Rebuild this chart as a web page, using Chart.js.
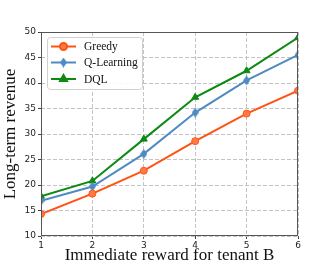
<!DOCTYPE html>
<html>
<head>
<meta charset="utf-8">
<script src="https://cdn.jsdelivr.net/npm/chart.js@4.4.0/dist/chart.umd.min.js"></script>
<style>
  html, body { margin: 0; padding: 0; background: #fff; }
  #wrap { width: 332px; height: 266px; }
</style>
</head>
<body>
<div id="wrap"><canvas id="chart" width="332" height="266"></canvas></div>
<script>
// data
const rewards = [1, 2, 3, 4, 5, 6];
const greedy = [14.3, 18.3, 22.8, 28.6, 34.0, 38.5];
const qLearning = [16.9, 19.7, 26.1, 34.2, 40.5, 45.5];
const dql = [17.8, 20.8, 29.0, 37.2, 42.4, 48.9];
const yTicks = [10, 15, 20, 25, 30, 35, 40, 45, 50];

const serif = "'Liberation Serif', 'Times New Roman', serif";
const sans = "'DejaVu Sans', sans-serif";

const toPoints = vals => vals.map((v, i) => ({ x: rewards[i], y: v }));

// thin diamond marker like matplotlib 'd'
function thinDiamond(color) {
  const c = document.createElement('canvas');
  c.width = 7;
  c.height = 10;
  const g = c.getContext('2d');
  g.fillStyle = color;
  g.beginPath();
  g.moveTo(3.5, 0);
  g.lineTo(7, 5);
  g.lineTo(3.5, 10);
  g.lineTo(0, 5);
  g.closePath();
  g.fill();
  return c;
}

const series = [
  { label: 'Greedy', data: greedy, color: '#ff5314', fill: '#ff7a45', marker: 'circle', radius: 3.5 },
  { label: 'Q-Learning', data: qLearning, color: '#4f8ac2', fill: '#4f8ac2', marker: thinDiamond('#4f8ac2'), radius: 4 },
  { label: 'DQL', data: dql, color: '#0c8a12', fill: '#0c8a12', marker: 'triangle', radius: 4 }
];

// frame + legend drawn inside the plot, matplotlib style
const framePlugin = {
  id: 'frame',
  afterDraw(chart) {
    const { ctx, chartArea: a } = chart;
    ctx.save();
    ctx.strokeStyle = '#555';
    ctx.lineWidth = 1;
    ctx.strokeRect(a.left + 0.5, a.top + 0.5, a.right - a.left - 1, a.bottom - a.top - 1);

    // legend box
    const bx = 47, by = 37, bw = 95, bh = 52;
    ctx.fillStyle = 'rgba(255,255,255,0.9)';
    ctx.strokeStyle = '#d0d0d0';
    ctx.beginPath();
    ctx.roundRect(bx + 0.5, by + 0.5, bw, bh, 3);
    ctx.fill();
    ctx.stroke();

    const rows = [46.5, 62.5, 79];
    chart.data.datasets.forEach((ds, i) => {
      const y = rows[i];
      ctx.strokeStyle = ds.borderColor;
      ctx.lineWidth = 2;
      ctx.beginPath();
      ctx.moveTo(51, y);
      ctx.lineTo(76, y);
      ctx.stroke();
      ctx.fillStyle = ds.pointBackgroundColor;
      ctx.strokeStyle = ds.borderColor;
      Chart.helpers.drawPoint(ctx, {
        pointStyle: ds.pointStyle,
        radius: ds.pointRadius,
        borderWidth: 1
      }, 63.5, y);
      ctx.fillStyle = '#111';
      ctx.font = "11.5px " + serif;
      ctx.textBaseline = 'middle';
      ctx.textAlign = 'left';
      ctx.fillText(ds.label, 84, y + 0.5);
    });
    ctx.restore();
  }
};

new Chart(document.getElementById('chart'), {
  type: 'line',
  data: {
    datasets: series.map(s => ({
      label: s.label,
      data: toPoints(s.data),
      borderColor: s.color,
      backgroundColor: s.color,
      pointBackgroundColor: s.fill,
      pointBorderColor: s.color,
      pointBorderWidth: 1,
      pointStyle: s.marker,
      pointRadius: s.radius,
      borderWidth: 2,
      tension: 0
    }))
  },
  options: {
    responsive: false,
    animation: false,
    devicePixelRatio: 1,
    layout: { padding: { top: 32, right: 34, left: 0, bottom: 0 } },
    plugins: { legend: { display: false }, tooltip: { enabled: false } },
    scales: {
      x: {
        type: 'linear',
        min: 1,
        max: 6,
        afterFit: s => { s.height = 30; },
        afterBuildTicks: s => { s.ticks = rewards.map(v => ({ value: v })); },
        ticks: { color: '#222', font: { family: sans, size: 9 }, padding: 1, maxRotation: 0 },
        grid: { color: '#c4c4c4', tickLength: 3, tickColor: '#444', tickBorderDash: [] },
        border: { display: false, dash: [4, 2] },
        title: {
          display: true,
          text: 'Immediate reward for tenant B',
          color: '#111',
          font: { family: serif, size: 17 },
          padding: { top: 0, bottom: 0 }
        }
      },
      y: {
        min: 10,
        max: 50,
        afterFit: s => { s.width = 41; },
        afterBuildTicks: s => { s.ticks = yTicks.map(v => ({ value: v })); },
        ticks: { color: '#222', font: { family: sans, size: 9 }, padding: 2 },
        grid: { color: '#c4c4c4', tickLength: 3, tickColor: '#444', tickBorderDash: [] },
        border: { display: false, dash: [4, 2] },
        title: {
          display: true,
          text: 'Long-term revenue',
          color: '#111',
          font: { family: serif, size: 17 },
          padding: { top: 0, bottom: 0 }
        }
      }
    }
  },
  plugins: [framePlugin]
});
</script>
</body>
</html>
